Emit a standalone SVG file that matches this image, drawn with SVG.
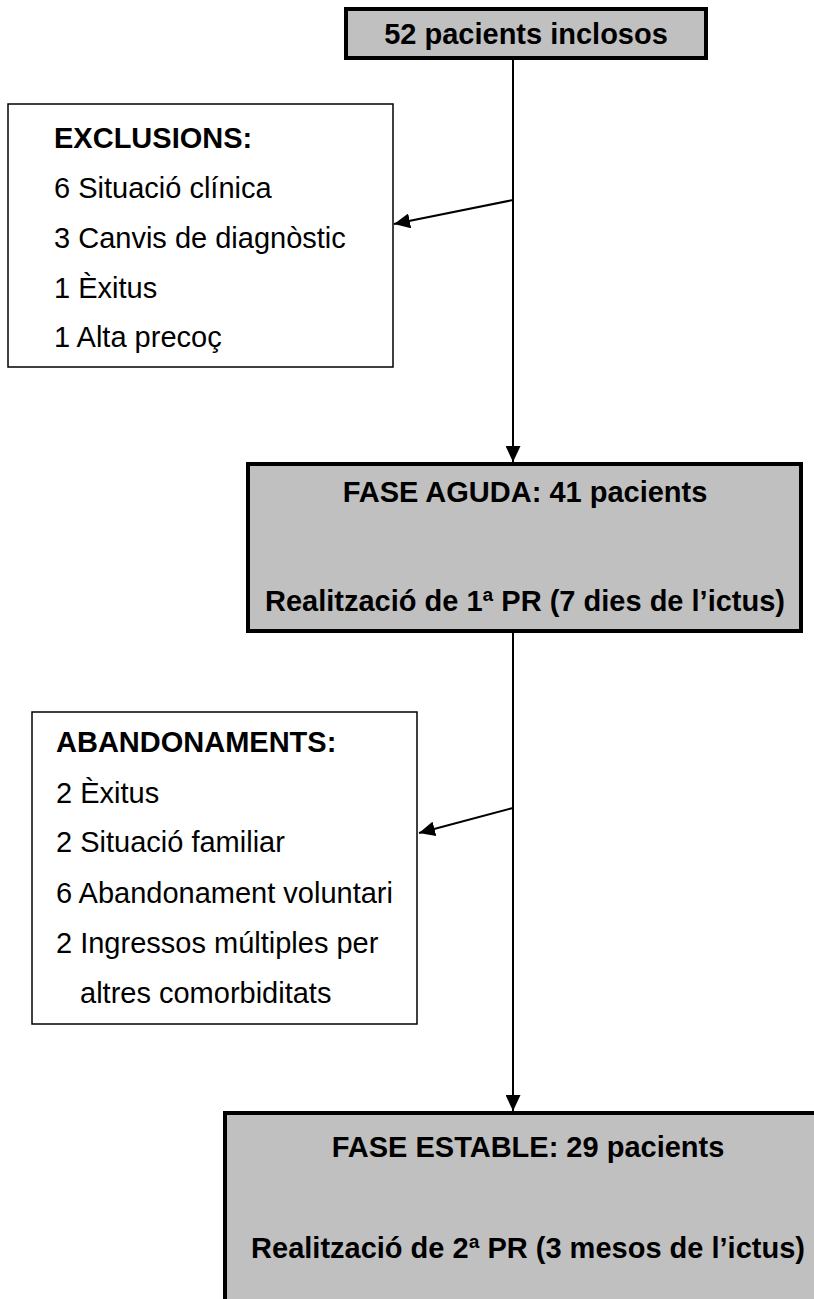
<svg xmlns="http://www.w3.org/2000/svg" width="814" height="1299" viewBox="0 0 814 1299">
<defs>
<style>
.main{fill:#c0c0c0;stroke:#000;stroke-width:4}
.side{fill:#fff;stroke:#000;stroke-width:1.5}
.b{font-family:"Liberation Sans",Arial,sans-serif;font-weight:bold;font-size:29px;fill:#000}
.r{font-family:"Liberation Sans",Arial,sans-serif;font-size:29px;fill:#000}
.c{text-anchor:middle}
.ln{stroke:#000;stroke-width:2;fill:none}
</style>
<marker id="ah" viewBox="0 0 10 10" refX="10" refY="5" markerWidth="16" markerHeight="15" markerUnits="userSpaceOnUse" orient="auto" preserveAspectRatio="none">
<path d="M0,0 L10,5 L0,10 z" fill="#000"/>
</marker>
</defs>
<rect width="814" height="1299" fill="#fff"/>
<g id="connectors">
<line class="ln" x1="513" y1="60" x2="513" y2="462" marker-end="url(#ah)"/>
<line class="ln" x1="513" y1="200" x2="394" y2="224" marker-end="url(#ah)"/>
<line class="ln" x1="513" y1="633" x2="513" y2="1111" marker-end="url(#ah)"/>
<line class="ln" x1="513" y1="808" x2="419" y2="833" marker-end="url(#ah)"/>
</g>
<g id="n-inclosos">
<rect class="main" x="346" y="9" width="360" height="49"/>
<text class="b c" x="526" y="44">52 pacients inclosos</text>
</g>
<g id="n-exclusions">
<rect class="side" x="8" y="104" width="385" height="263"/>
<text class="b" x="54" y="148">EXCLUSIONS:</text>
<text class="r" x="54" y="198">6 Situació clínica</text>
<text class="r" x="54" y="248">3 Canvis de diagnòstic</text>
<text class="r" x="54" y="298">1 Èxitus</text>
<text class="r" x="54" y="347">1 Alta precoç</text>
</g>
<g id="n-aguda">
<rect class="main" x="248" y="464" width="553" height="167"/>
<text class="b c" x="525" y="502">FASE AGUDA: 41 pacients</text>
<text class="b c" x="525" y="611">Realització de 1ª PR (7 dies de l’ictus)</text>
</g>
<g id="n-abandonaments">
<rect class="side" x="32" y="712" width="385" height="312"/>
<text class="b" x="56" y="752">ABANDONAMENTS:</text>
<text class="r" x="56" y="803">2 Èxitus</text>
<text class="r" x="56" y="852">2 Situació familiar</text>
<text class="r" x="56" y="903">6 Abandonament voluntari</text>
<text class="r" x="56" y="953">2 Ingressos múltiples per</text>
<text class="r" x="80" y="1003">altres comorbiditats</text>
</g>
<g id="n-estable">
<rect class="main" x="225" y="1113" width="620" height="220"/>
<text class="b c" x="528" y="1157">FASE ESTABLE: 29 pacients</text>
<text class="b c" x="528" y="1258">Realització de 2ª PR (3 mesos de l’ictus)</text>
</g>
</svg>
